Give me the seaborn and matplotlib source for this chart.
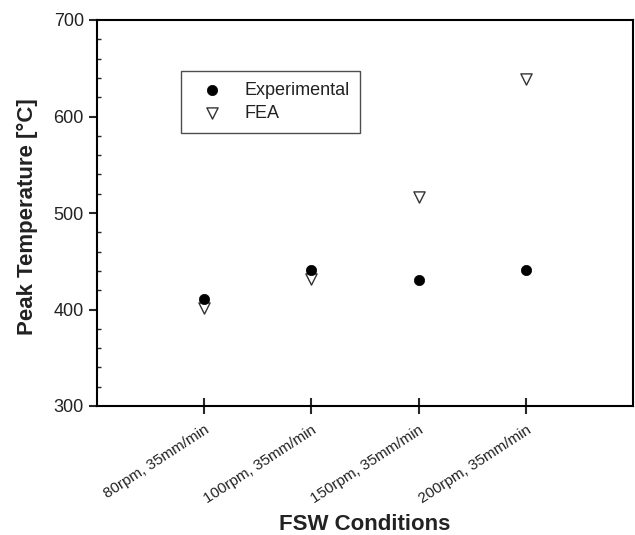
import matplotlib
matplotlib.use("Agg")
import matplotlib.pyplot as plt
from matplotlib.ticker import MultipleLocator
import seaborn as sns
import pandas as pd

conditions = ["80rpm, 35mm/min", "100rpm, 35mm/min", "150rpm, 35mm/min", "200rpm, 35mm/min"]
experimental = [411, 441, 431, 441]
fea = [402, 432, 517, 639]

positions = list(range(1, len(conditions) + 1))
df = pd.DataFrame({
    "x": positions * 2,
    "temp": experimental + fea,
    "series": ["Experimental"] * 4 + ["FEA"] * 4,
})

sns.set_theme(style="white")
plt.rcParams["font.family"] = ["Liberation Sans", "DejaVu Sans"]

fig = plt.figure(figsize=(6.35, 5.35), dpi=100)
ax = fig.add_axes([97 / 635, 1 - 406 / 535, 536 / 635, 386 / 535])

sns.scatterplot(data=df[df.series == "Experimental"], x="x", y="temp", ax=ax,
                marker="o", s=55, color="black", edgecolor="black", linewidth=0.5,
                label="Experimental", zorder=3)
sns.scatterplot(data=df[df.series == "FEA"], x="x", y="temp", ax=ax,
                marker="v", s=65, facecolor="white", edgecolor="#333333", linewidth=1.0,
                label="FEA", zorder=2)

ax.set_xlim(0, 5)
ax.set_ylim(300, 700)
ax.set_xticks(positions)
ax.set_xticklabels(conditions, rotation=33, ha="right", rotation_mode="anchor",
                   fontsize=11, color="#222222")
ax.yaxis.set_major_locator(MultipleLocator(100))
ax.yaxis.set_minor_locator(MultipleLocator(20))
ax.tick_params(axis="y", which="major", direction="out", length=6, width=1.5,
               labelsize=13, labelcolor="#222222", left=True)
ax.tick_params(axis="y", which="minor", direction="in", length=3, width=1.0, left=True)
ax.tick_params(axis="x", which="major", direction="inout", length=12, width=1.5,
               bottom=True, pad=6)

for sp in ax.spines.values():
    sp.set_visible(True)
    sp.set_color("black")
    sp.set_linewidth(1.5)

ax.set_xlabel("FSW Conditions", fontsize=16, fontweight="bold", color="#222222")
ax.set_ylabel("Peak Temperature [°C]", fontsize=16, fontweight="bold", color="#222222")
ax.xaxis.set_label_coords(0.5, -0.28)
ax.yaxis.set_label_coords(-0.110, 0.49)

leg = ax.legend(loc="upper left", bbox_to_anchor=(0.1567, 0.8687), borderaxespad=0,
                fontsize=13, frameon=True, fancybox=False, handletextpad=0.7,
                borderpad=0.6, labelspacing=0.35, handlelength=2.2)
leg.get_frame().set_edgecolor("#222222")
leg.get_frame().set_linewidth(1.0)
for t in leg.get_texts():
    t.set_color("#222222")

fig.savefig("out.png", dpi=100)
